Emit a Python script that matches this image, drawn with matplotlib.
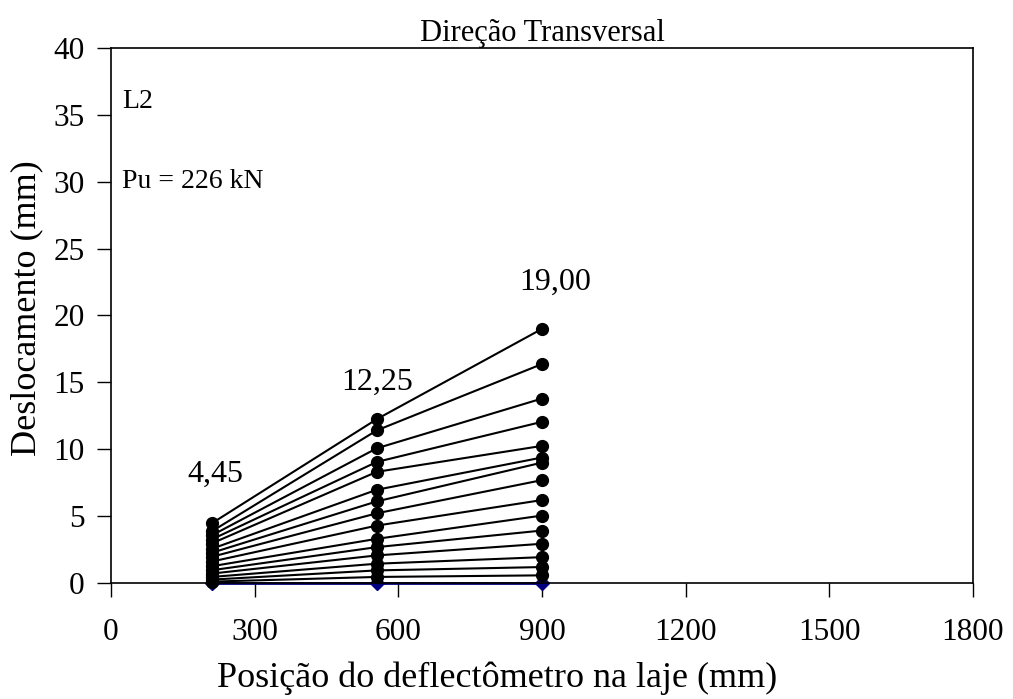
import matplotlib
matplotlib.use('Agg')
from matplotlib import pyplot as plt
import numpy as np

plt.rcParams['font.family'] = ['Liberation Serif', 'DejaVu Serif']

# deflectometer positions (mm)
positions = [210, 555, 900]

# displacement (mm) per load step, one value per position
disp_pos1 = [4.45, 3.85, 3.55, 3.25, 2.95, 2.55, 2.25, 1.95, 1.60, 1.25,
             0.95, 0.70, 0.45, 0.25, 0.10]
disp_pos2 = [12.25, 11.41, 10.07, 9.05, 8.31, 6.97, 6.10, 5.21, 4.29, 3.30,
             2.68, 2.06, 1.44, 0.94, 0.45]
disp_pos3 = [19.00, 16.37, 13.79, 12.05, 10.25, 9.38, 9.00, 7.69, 6.20, 5.04,
             3.92, 2.93, 1.93, 1.19, 0.57]
disp_zero = [0.0, 0.0, 0.0]

peak_labels = ['4,45', '12,25', '19,00']
label_x = [217, 555, 927]
label_y = [8.1, 15.0, 22.5]

fig = plt.figure(figsize=(10.13, 6.99), dpi=100)
ax = fig.add_axes([0.1096, 0.166, 0.8509, 0.7653])

ax.plot(positions, disp_zero, color='#000080', marker='D', markersize=7,
        linewidth=2, zorder=2)
for d1, d2, d3 in zip(disp_pos1, disp_pos2, disp_pos3):
  ax.plot(positions, [d1, d2, d3], color='black', marker='o',
          markersize=8.5, linewidth=1.5, zorder=3)

for xp, yp, lab in zip(label_x, label_y, peak_labels):
  ax.text(xp, yp, lab, ha='center', va='center', fontsize=23)

ax.text(23, 36, 'L2', ha='left', va='center', fontsize=20)
ax.text(23, 30, 'Pu = 226 kN', ha='left', va='center', fontsize=20)

ax.set_xlim(0, 1800)
ax.set_ylim(0, 40)
ax.set_xticks(np.arange(0, 1801, 300))
ax.set_yticks(np.arange(0, 41, 5))
ax.tick_params(axis='both', direction='out', length=10, width=1,
               labelsize=22.5)
ax.tick_params(axis='x', pad=15)
ax.tick_params(axis='y', pad=9)
for s in ax.spines.values():
  s.set_linewidth(1.2)

# axis titles placed like the original (x title sits left of centre)
fig.text(497 / 1013, 1 - 678 / 699, 'Posição do deflectômetro na laje (mm)',
         ha='center', va='center', fontsize=26)
fig.text(27 / 1013, 1 - 308 / 699, 'Deslocamento (mm)', rotation=90,
         ha='center', va='center', fontsize=26)
ax.set_title('Direção Transversal', fontsize=22, pad=4)

for line in ax.lines:
  line.set_clip_on(False)

fig.savefig('out.png', dpi=100, facecolor='white')
